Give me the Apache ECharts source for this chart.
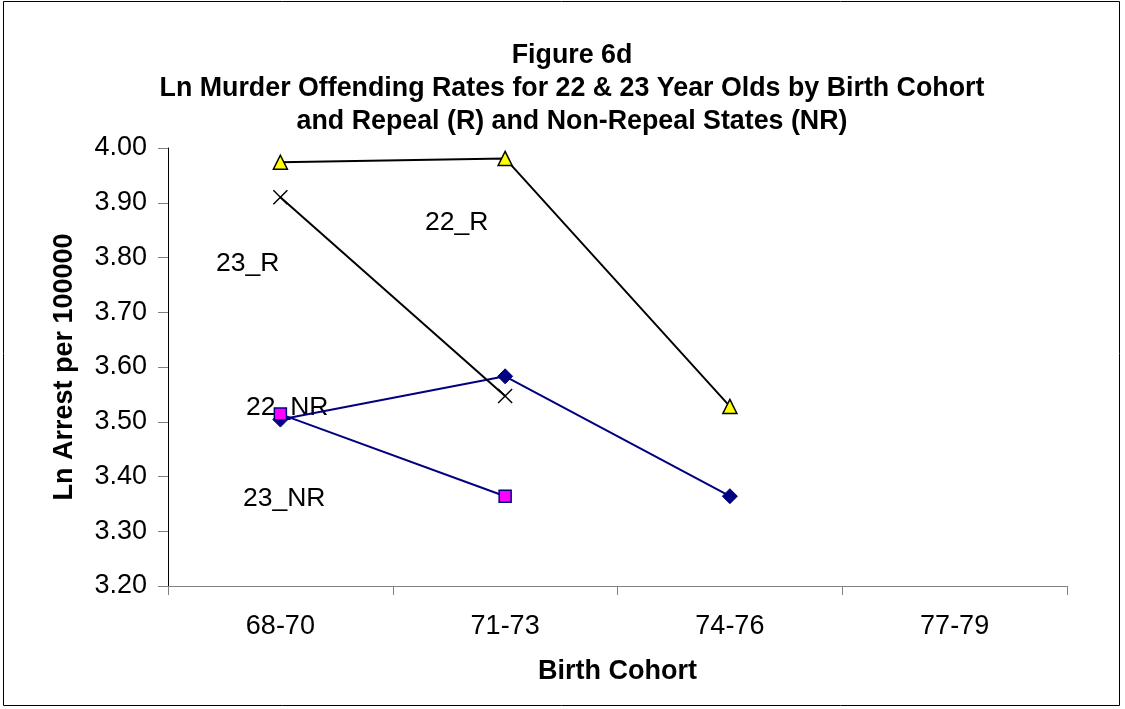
<!DOCTYPE html>
<html><head><meta charset="utf-8">
<script src="https://cdn.jsdelivr.net/npm/echarts@6/dist/echarts.min.js"></script>
<style>html,body{margin:0;padding:0;background:#fff}#c{width:1125px;height:709px}</style>
</head><body><div id="c"></div>
<script>
const categories = ['68-70', '71-73', '74-76', '77-79'];
const seriesNames = ['22_R', '23_R', '22_NR', '23_NR'];
const r22 = [3.974, 3.981, 3.528, null];
const r23 = [3.910, 3.547, null, null];
const nr22 = [3.504, 3.583, 3.364, null];
const nr23 = [3.514, 3.364, null, null];
const yMin = 3.2, yMax = 4.0, yStep = 0.1;
const titleLines = ['Figure 6d', 'Ln Murder Offending Rates for 22 & 23 Year Olds by Birth Cohort', 'and Repeal (R) and Non-Repeal States (NR)'];
const xName = 'Birth Cohort';
const yName = 'Ln Arrest per 100000';
const FONT = '"Liberation Sans", Arial, sans-serif';

const chart = echarts.init(document.getElementById('c'), null, {renderer: 'canvas'});
const crossPath = 'path://M0,0L10,10M10,0L0,10';
function labelText(t, x, y) {
  return {type: 'text', x: x, y: y, silent: true,
    style: {text: t, fontFamily: FONT, fontSize: 26.5, fill: '#000', align: 'left', verticalAlign: 'middle'}};
}
chart.setOption({
  animation: false,
  backgroundColor: '#fff',
  textStyle: {fontFamily: FONT},
  title: {
    text: titleLines.join('\n'),
    left: 567, top: 34, textAlign: 'center',
    textStyle: {fontFamily: FONT, fontSize: 26.8, fontWeight: 'bold', color: '#000', lineHeight: 33}
  },
  grid: {left: 168, right: 58, top: 148, bottom: 123, containLabel: false},
  xAxis: {
    type: 'category', data: categories, boundaryGap: true,
    name: xName, nameLocation: 'middle', nameGap: 72,
    nameTextStyle: {fontFamily: FONT, fontSize: 27, fontWeight: 'bold', color: '#000'},
    axisLine: {lineStyle: {color: '#808080', width: 1}},
    axisTick: {show: true, length: 9, lineStyle: {color: '#808080'}},
    axisLabel: {fontFamily: FONT, fontSize: 27, color: '#000', margin: 27},
    splitLine: {show: false}
  },
  yAxis: {
    type: 'value', min: yMin, max: yMax, interval: yStep,
    name: yName, nameLocation: 'middle', nameGap: 90, nameRotate: 90,
    nameTextStyle: {fontFamily: FONT, fontSize: 27, fontWeight: 'bold', color: '#000'},
    axisLine: {show: true, lineStyle: {color: '#000', width: 1}},
    axisTick: {show: true, length: 10, lineStyle: {color: '#808080'}},
    axisLabel: {fontFamily: FONT, fontSize: 27, color: '#000', margin: 21, formatter: v => v.toFixed(2)},
    splitLine: {show: false}
  },
  series: [
    {name: seriesNames[0], type: 'line', data: r22, symbol: 'triangle', symbolSize: 14,
     lineStyle: {color: '#000', width: 2}, itemStyle: {color: '#FFFF00', borderColor: '#000', borderWidth: 1.5}, z: 3},
    {name: seriesNames[1], type: 'line', data: r23, symbol: crossPath, symbolSize: 14,
     lineStyle: {color: '#000', width: 2}, itemStyle: {color: '#000', borderColor: '#000', borderWidth: 1.5}, z: 3},
    {name: seriesNames[2], type: 'line', data: nr22, symbol: 'diamond', symbolSize: 15,
     lineStyle: {color: '#000080', width: 2}, itemStyle: {color: '#000080', borderColor: '#000080', borderWidth: 1}, z: 2},
    {name: seriesNames[3], type: 'line', data: nr23, symbol: 'rect', symbolSize: 12,
     lineStyle: {color: '#000080', width: 2}, itemStyle: {color: '#FF00FF', borderColor: '#000080', borderWidth: 1.5}, z: 4}
  ],
  graphic: [
    {type: 'rect', silent: true, shape: {x: 3.5, y: 1.5, width: 1116, height: 704}, style: {fill: 'none', stroke: '#000', lineWidth: 1}},
    labelText(seriesNames[0], 425, 223),
    labelText(seriesNames[1], 216, 264),
    labelText(seriesNames[2], 246, 408),
    labelText(seriesNames[3], 243, 499)
  ]
});
</script></body></html>
